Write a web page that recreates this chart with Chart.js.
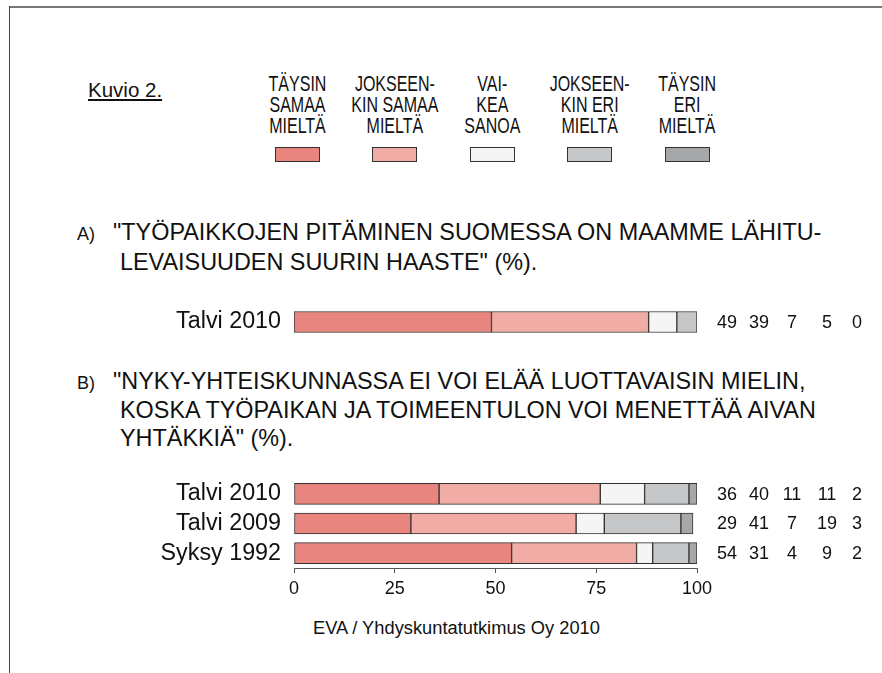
<!DOCTYPE html>
<html>
<head>
<meta charset="utf-8">
<script src="https://cdn.jsdelivr.net/npm/chart.js@4/dist/chart.umd.min.js"></script>
<style>
  html, body { margin: 0; padding: 0; background: #fff; }
  body { width: 882px; height: 673px; position: relative; overflow: hidden;
         font-family: "Liberation Sans", Arial, sans-serif; color: #111; }
  .frame-top { position: absolute; left: 9px; top: 6px; width: 873px; height: 2px; background: #777; }
  .frame-left { position: absolute; left: 9px; top: 6px; width: 1px; height: 667px; background: #444; }
  .abs { position: absolute; white-space: nowrap; line-height: 1; }
  .leg-text { position: absolute; top: 73.4px; width: 110px; margin-left: -55px; text-align: center;
              font-size: 16px; line-height: 15.7px; transform: scaleY(1.36); transform-origin: 50% 0; }
  .leg-box { position: absolute; top: 147px; width: 45px; height: 15px; margin-left: -22.5px;
             border: 1px solid #333; box-sizing: border-box; }
  .title { font-size: 23.4px; }
  canvas { position: absolute; }
</style>
</head>
<body>
<div class="frame-top"></div>
<div class="frame-left"></div>
<div class="abs" style="left:88px; top:80px; font-size:20.5px; text-decoration: underline;">Kuvio 2.</div>
<div id="legend"></div>

<div class="abs" style="left:77px; top:225px; font-size:18px;">A)</div>
<div class="abs title" style="left:113px; top:220.5px;">"TYÖPAIKKOJEN PITÄMINEN SUOMESSA ON MAAMME LÄHITU-</div>
<div class="abs title" style="left:120px; top:250.5px;">LEVAISUUDEN SUURIN HAASTE" (%).</div>

<div class="abs" style="left:77px; top:374px; font-size:18px;">B)</div>
<div class="abs title" style="left:113px; top:369.5px;">"NYKY-YHTEISKUNNASSA EI VOI ELÄÄ LUOTTAVAISIN MIELIN,</div>
<div class="abs title" style="left:120px; top:398.5px;">KOSKA TYÖPAIKAN JA TOIMEENTULON VOI MENETTÄÄ AIVAN</div>
<div class="abs title" style="left:120px; top:426.5px;">YHTÄKKIÄ" (%).</div>

<canvas id="chartA" width="722" height="44" style="left:160px; top:300px;"></canvas>
<canvas id="chartB" width="722" height="142" style="left:160px; top:470px;"></canvas>

<div class="abs" style="left:313px; top:619px; font-size:18.3px;">EVA / Yhdyskuntatutkimus Oy 2010</div>

<script>
// Vastausvaihtoehdot ja värit
const legendLabels = [
    ['TÄYSIN', 'SAMAA', 'MIELTÄ'],
    ['JOKSEEN-', 'KIN SAMAA', 'MIELTÄ'],
    ['VAI-', 'KEA', 'SANOA'],
    ['JOKSEEN-', 'KIN ERI', 'MIELTÄ'],
    ['TÄYSIN', 'ERI', 'MIELTÄ']
];
const seriesColors = ['#e8857e', '#f0aca5', '#f5f5f5', '#c6c7c9', '#a6a7a9'];

// A) kysymys
const catsA = ['Talvi 2010'];
const seriesA = [[49], [39], [7], [5], [0]];

// B) kysymys
const catsB = ['Talvi 2010', 'Talvi 2009', 'Syksy 1992'];
const seriesB = [
    [36, 29, 54],
    [40, 41, 31],
    [11, 7, 4],
    [11, 19, 9],
    [2, 3, 2]
];

const xTicks = [0, 25, 50, 75, 100];

const FONT = '"Liberation Sans", Arial, sans-serif';
Chart.defaults.font.family = FONT;
Chart.defaults.color = '#111';

// Legenda
const legendEl = document.getElementById('legend');
legendLabels.forEach((lines, i) => {
    const cx = 297.5 + i * 97.4;
    const t = document.createElement('div');
    t.className = 'leg-text';
    t.style.left = cx + 'px';
    t.innerHTML = lines.join('<br>');
    legendEl.appendChild(t);
    const b = document.createElement('div');
    b.className = 'leg-box';
    b.style.left = cx + 'px';
    b.style.background = seriesColors[i];
    legendEl.appendChild(b);
});

// Prosenttiluvut palkkien oikealle puolelle
const colOffsets = [30, 62, 95, 130, 160];
const valueLabels = {
    id: 'valueLabels',
    afterDatasetsDraw(chart) {
        const ctx = chart.ctx;
        const yScale = chart.scales.y;
        ctx.save();
        ctx.font = '18px ' + FONT;
        ctx.fillStyle = '#111';
        ctx.textAlign = 'center';
        ctx.textBaseline = 'middle';
        chart.data.datasets.forEach((ds, j) => {
            ds.data.forEach((v, i) => {
                ctx.fillText(String(v), chart.chartArea.right + colOffsets[j], yScale.getPixelForValue(i) + 1);
            });
        });
        ctx.restore();
    }
};

function makeChart(id, cats, series, showAxis, padTop) {
    return new Chart(document.getElementById(id), {
        type: 'bar',
        data: {
            labels: cats,
            datasets: series.map((vals, j) => ({
                data: vals,
                backgroundColor: seriesColors[j],
                borderColor: '#333',
                borderWidth: 1,
                borderSkipped: false,
                barThickness: 21
            }))
        },
        options: {
            indexAxis: 'y',
            responsive: false,
            animation: false,
            layout: { padding: { top: padTop, right: 185, bottom: showAxis ? 4 : 0, left: 0 } },
            plugins: { legend: { display: false }, tooltip: { enabled: false } },
            scales: {
                x: {
                    stacked: true, min: 0, max: 100,
                    afterBuildTicks: s => { s.ticks = xTicks.map(v => ({ value: v })); },
                    afterFit: s => {
                        s.height = showAxis ? 40 : 0;
                        s.paddingLeft = 0; s.paddingRight = 0;
                    },
                    grid: { display: showAxis, drawOnChartArea: false, drawTicks: true, tickLength: 5, color: '#555' },
                    border: { display: showAxis, color: '#555' },
                    ticks: { display: showAxis, font: { size: 18 }, padding: 5, maxRotation: 0, autoSkip: false }
                },
                y: {
                    stacked: true,
                    afterFit: s => {
                        s.width = 134;
                        s.paddingTop = 0; s.paddingBottom = 0;
                    },
                    grid: { display: false, drawTicks: false },
                    border: { display: false },
                    ticks: { font: { size: 23.3 }, padding: 13, autoSkip: false }
                }
            }
        },
        plugins: [valueLabels]
    });
}

makeChart('chartA', catsA, seriesA, false, 0);
makeChart('chartB', catsB, seriesB, true, 9);
</script>
</body>
</html>
